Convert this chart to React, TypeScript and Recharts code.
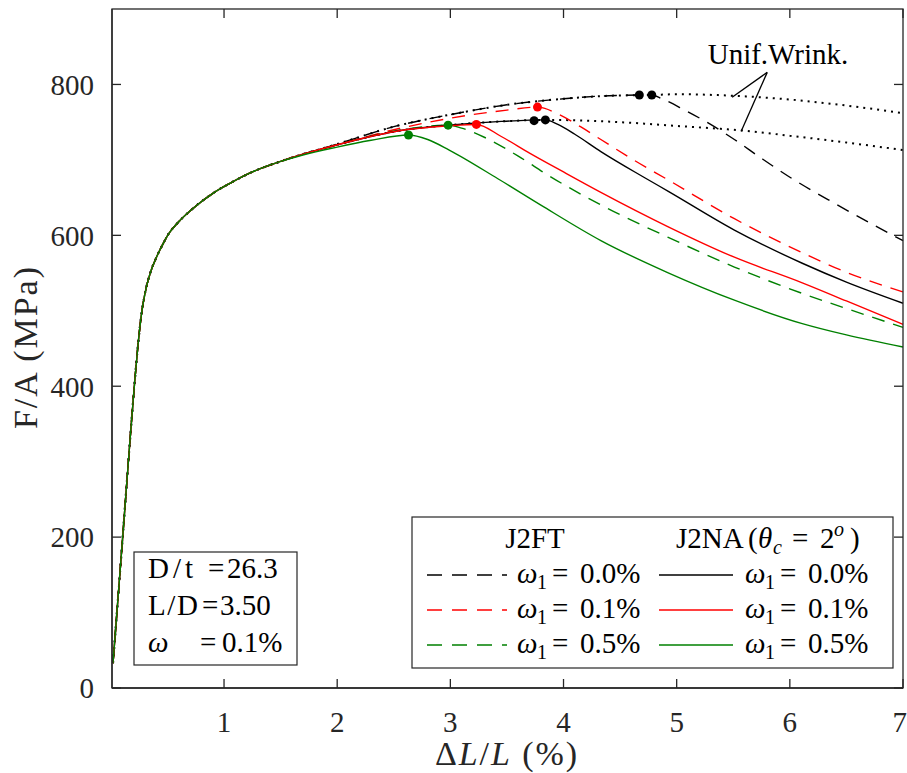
import React from "react";
import {
  ComposedChart,
  Line,
  Scatter,
  XAxis,
  YAxis,
  ReferenceLine,
} from "recharts";

// shared elastic-plastic rise (x in %, y in MPa)
const rise = [
  [0.019, 33], [0.107, 205], [0.17, 330], [0.21, 405], [0.24, 455], [0.27, 495],
  [0.3, 522], [0.35, 551], [0.4, 570], [0.462, 589], [0.506, 601], [0.581, 615],
  [0.728, 636], [0.905, 656], [1.053, 669], [1.25, 684], [1.5, 698],
];

// J2FT
const ftW0 = [
  [2.0, 721], [2.5, 744], [3.0, 760], [3.5, 773], [4.0, 781], [4.4, 785], [4.78, 786],
  [4.87, 781], [5.07, 766], [5.3, 747], [5.51, 727], [5.75, 702], [5.99, 678],
  [6.4, 642], [6.7, 617], [7.0, 593],
];
const ftW01 = [
  [2.0, 720], [2.56, 742], [3.15, 759], [3.5, 766], [3.77, 770], [3.95, 761],
  [4.15, 744], [4.33, 727], [4.63, 699], [4.93, 673], [5.51, 622], [6.11, 577],
  [6.5, 551], [7.0, 525],
];
const ftW05 = [
  [2.0, 720], [2.5, 738], [2.98, 746], [3.1, 742], [3.3, 730], [3.6, 705],
  [3.86, 680], [4.36, 638], [4.93, 597], [5.51, 558], [6.11, 523], [6.5, 503], [7.0, 478],
];
const ftUnif = [
  [2.0, 721], [2.5, 744], [3.0, 760], [3.5, 773], [4.0, 781], [4.4, 785], [4.78, 786],
  [5.0, 787], [5.5, 785], [6.0, 780], [6.5, 772], [7.0, 762],
];

// J2NA (theta_c = 2 deg)
const naW0 = [
  [2.0, 720], [2.56, 739], [2.98, 746], [3.45, 751], [3.84, 753], [3.95, 747],
  [4.1, 734], [4.33, 711], [4.71, 677], [4.93, 658], [5.51, 607], [6.11, 563],
  [6.5, 538], [7.0, 510],
];
const naW01 = [
  [2.0, 720], [2.56, 739], [2.98, 745], [3.23, 747], [3.45, 731], [3.7, 709],
  [4.0, 684], [4.33, 657], [4.93, 611], [5.51, 571], [6.11, 537], [6.5, 513], [7.0, 482],
];
const naW05 = [
  [2.0, 717], [2.3, 726], [2.63, 733], [2.8, 727], [2.99, 713], [3.42, 675],
  [3.8, 640], [4.33, 593], [4.93, 550], [5.51, 514], [6.11, 483], [6.5, 468], [7.0, 452],
];
const naUnif = [
  [2.0, 720], [2.56, 739], [2.98, 746], [3.45, 751], [3.84, 753], [4.5, 750],
  [5.0, 745], [5.57, 739], [6.0, 732], [6.5, 723], [7.0, 713],
];

// limit points
const blackPeaks = [[4.67, 786], [4.78, 786], [3.74, 752], [3.84, 753]];
const redPeaks = [[3.77, 770], [3.23, 747]];
const greenPeaks = [[2.98, 746], [2.63, 733]];

const xTicks = [1, 2, 3, 4, 5, 6, 7];
const yTicks = [0, 200, 400, 600, 800];
const X_MIN = 0.01;
const X_MAX = 7;
const Y_MAX = 900;

const legendValues = ["0.0%", "0.1%", "0.5%"];

const toPts = (arr: number[][]) => arr.map(([x, y]) => ({ x, y }));
const curve = (post: number[][]) => toPts([...rise, ...post]);

const RED = "#ff0000";
const GREEN = "#008000";
const AXIS = "#262626";
const FONT = "'Liberation Serif', 'Times New Roman', serif";
const DASH = "13 9";
const DOT = "2 5";
const rowColors = ["#000", RED, GREEN];

const W = 907;
const H = 773;
// plot box (page px), follows from the chart margins / axis sizes below
const MARGIN = { top: 9, right: 4, bottom: 0, left: 0 };
const X_AXIS_H = 85;
const Y_AXIS_W = 112;
const BOX = {
  left: MARGIN.left + Y_AXIS_W,
  top: MARGIN.top,
  right: W - MARGIN.right,
  bottom: H - MARGIN.bottom - X_AXIS_H,
};
const TICK = 9;

const dot = (color: string) => (p: any) => (
  <circle cx={p.cx} cy={p.cy} r={4.5} fill={color} stroke="none" />
);

function Omega1({ x, y, v }: { x: number; y: number; v: string }) {
  return (
    <g>
      <text x={x} y={y} fontStyle="italic">ω</text>
      <text x={x + 20} y={y + 6} fontSize={20}>1</text>
      <text x={x + 35} y={y}>=</text>
      <text x={x + 63} y={y}>{v}</text>
    </g>
  );
}

// matlab-style closed box with inward ticks on every side
function Frame() {
  const bw = BOX.right - BOX.left;
  const bh = BOX.bottom - BOX.top;
  const px = (x: number) => BOX.left + ((x - X_MIN) / (X_MAX - X_MIN)) * bw;
  const py = (y: number) => BOX.bottom - (y / Y_MAX) * bh;
  return (
    <g stroke={AXIS} strokeWidth={1.3} fill="none">
      <rect x={BOX.left} y={BOX.top} width={bw} height={bh} />
      {xTicks.map((t) => (
        <g key={"x" + t}>
          <line x1={px(t)} y1={BOX.bottom} x2={px(t)} y2={BOX.bottom - TICK} />
          <line x1={px(t)} y1={BOX.top} x2={px(t)} y2={BOX.top + TICK} />
        </g>
      ))}
      {yTicks.map((v) => (
        <g key={"y" + v}>
          <line x1={BOX.left} y1={py(v)} x2={BOX.left + TICK} y2={py(v)} />
          <line x1={BOX.right} y1={py(v)} x2={BOX.right - TICK} y2={py(v)} />
        </g>
      ))}
    </g>
  );
}

// page-coordinate overlay: frame, titles, annotation text, the two boxed legends
function Overlay() {
  return (
    <svg
      width={W}
      height={H}
      style={{ position: "absolute", left: 0, top: 0, pointerEvents: "none" }}
      fontFamily={FONT}
      fontSize={29}
      fill="#000"
    >
      <Frame />

      <text x={435} y={765} fontSize={34} textLength={142} lengthAdjust="spacing" fill="#262626">
        Δ<tspan fontStyle="italic">L</tspan>/<tspan fontStyle="italic">L</tspan> (%)
      </text>
      <text
        x={37}
        y={348}
        fontSize={34}
        textAnchor="middle"
        textLength={162}
        lengthAdjust="spacing"
        transform="rotate(-90, 37, 348)"
        fill="#262626"
      >
        F/A (MPa)
      </text>

      <text x={778} y={64} textAnchor="middle">Unif.Wrink.</text>

      <rect x={134} y={552} width={163} height={113} fill="#fff" stroke={AXIS} strokeWidth={1.2} />
      <text x={148} y={578} textLength={45} lengthAdjust="spacing">D/t</text>
      <text x={208} y={578}>=</text>
      <text x={227} y={578}>26.3</text>
      <text x={148} y={615} textLength={50} lengthAdjust="spacing">L/D</text>
      <text x={202} y={615}>=</text>
      <text x={220} y={615}>3.50</text>
      <text x={148} y={652} fontStyle="italic">ω</text>
      <text x={200} y={652}>=</text>
      <text x={222} y={652}>0.1%</text>

      <rect x={412} y={517} width={481} height={151} fill="#fff" stroke={AXIS} strokeWidth={1.2} />
      <text x={535} y={548} textAnchor="middle">J2FT</text>
      <text x={676} y={548}>J2NA</text>
      <text x={748} y={548}>(</text>
      <text x={758} y={548} fontStyle="italic">θ</text>
      <text x={773} y={554} fontSize={20} fontStyle="italic">c</text>
      <text x={792} y={548}>=</text>
      <text x={820} y={548}>2</text>
      <text x={834} y={536} fontSize={20} fontStyle="italic">o</text>
      <text x={850} y={548}>)</text>
      {legendValues.map((v, i) => {
        const ly = 575 + 35 * i;
        return (
          <g key={v}>
            <line x1={427} y1={ly} x2={507} y2={ly} stroke={rowColors[i]} strokeWidth={1.4} strokeDasharray="15 10" />
            <Omega1 x={517} y={ly + 8} v={v} />
            <line x1={659} y1={ly} x2={733} y2={ly} stroke={rowColors[i]} strokeWidth={1.4} />
            <Omega1 x={745} y={ly + 8} v={v} />
          </g>
        );
      })}
    </svg>
  );
}

export default function App() {
  const common = {
    dataKey: "y",
    type: "monotone" as const,
    dot: false,
    isAnimationActive: false,
    strokeWidth: 1.4,
  };
  const tickStyle = { fill: "#262626", fontSize: 29, fontFamily: FONT };

  return (
    <div
      style={{
        position: "absolute", left: 0, top: 0, width: W, height: H,
        overflow: "hidden", background: "#fff", fontFamily: FONT,
      }}
    >
      <ComposedChart width={W} height={H} margin={MARGIN}>
        <XAxis
          dataKey="x"
          type="number"
          domain={[X_MIN, X_MAX]}
          ticks={xTicks}
          height={X_AXIS_H}
          tickLine={false}
          tickMargin={17}
          stroke={AXIS}
          strokeWidth={1.3}
          tick={tickStyle}
        />
        <YAxis
          type="number"
          domain={[0, Y_MAX]}
          ticks={yTicks}
          width={Y_AXIS_W}
          tickLine={false}
          tickMargin={12}
          stroke={AXIS}
          strokeWidth={1.3}
          tick={tickStyle}
        />

        <Line {...common} data={curve(naUnif)} stroke="#000" strokeDasharray={DOT} strokeWidth={2} />
        <Line {...common} data={curve(ftUnif)} stroke="#000" strokeDasharray={DOT} strokeWidth={2} />
        <Line {...common} data={curve(ftW0)} stroke="#000" strokeDasharray={DASH} />
        <Line {...common} data={curve(ftW01)} stroke={RED} strokeDasharray={DASH} />
        <Line {...common} data={curve(ftW05)} stroke={GREEN} strokeDasharray={DASH} />
        <Line {...common} data={curve(naW0)} stroke="#000" />
        <Line {...common} data={curve(naW01)} stroke={RED} />
        <Line {...common} data={curve(naW05)} stroke={GREEN} />

        <Scatter data={toPts(blackPeaks)} dataKey="y" shape={dot("#000")} isAnimationActive={false} />
        <Scatter data={toPts(redPeaks)} dataKey="y" shape={dot(RED)} isAnimationActive={false} />
        <Scatter data={toPts(greenPeaks)} dataKey="y" shape={dot(GREEN)} isAnimationActive={false} />

        <ReferenceLine segment={[{ x: 5.8, y: 816 }, { x: 5.49, y: 783 }]} stroke="#000" strokeWidth={1.3} ifOverflow="visible" />
        <ReferenceLine segment={[{ x: 5.8, y: 816 }, { x: 5.57, y: 738 }]} stroke="#000" strokeWidth={1.3} ifOverflow="visible" />
      </ComposedChart>
      <Overlay />
    </div>
  );
}
